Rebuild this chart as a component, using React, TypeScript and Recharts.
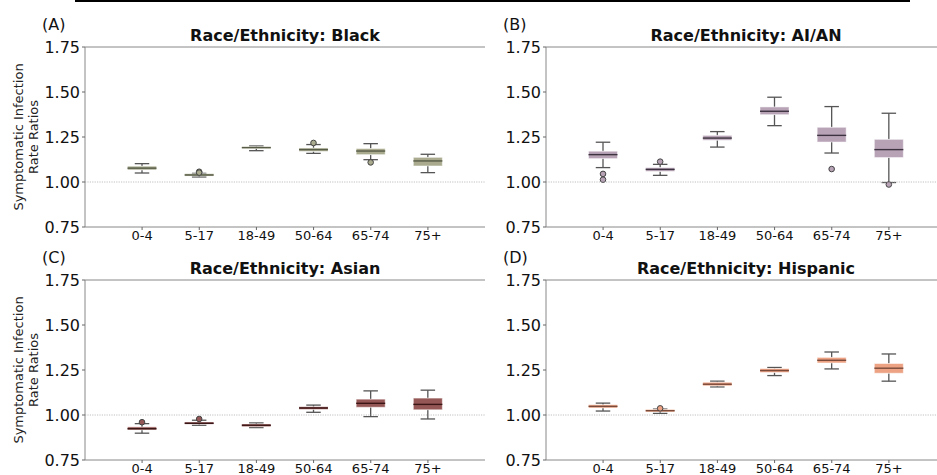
import React from "react";
import {
  ComposedChart,
  Bar,
  XAxis,
  YAxis,
  ReferenceLine,
  Label,
} from "recharts";

const ageGroups = ["0-4", "5-17", "18-49", "50-64", "65-74", "75+"];
const yTicks = [0.75, 1.0, 1.25, 1.5, 1.75];

// Black
const blackLow = [1.05, 1.028, 1.174, 1.159, 1.124, 1.052];
const blackQ1 = [1.067, 1.033, 1.186, 1.17, 1.152, 1.089];
const blackMedian = [1.077, 1.039, 1.191, 1.18, 1.172, 1.117];
const blackQ3 = [1.088, 1.046, 1.196, 1.189, 1.186, 1.137];
const blackHigh = [1.102, 1.048, 1.2, 1.208, 1.213, 1.154];
const blackOutliers = [[], [1.057, 1.052], [], [1.217], [1.109], []];

// AI/AN
const aianLow = [1.08, 1.037, 1.194, 1.313, 1.161, 0.997];
const aianQ1 = [1.13, 1.059, 1.232, 1.374, 1.222, 1.136];
const aianMedian = [1.152, 1.07, 1.244, 1.393, 1.259, 1.18];
const aianQ3 = [1.171, 1.08, 1.259, 1.417, 1.304, 1.237];
const aianHigh = [1.221, 1.098, 1.28, 1.471, 1.419, 1.382];
const aianOutliers = [[1.045, 1.013], [1.113], [], [], [1.072], [0.986]];

// Asian
const asianLow = [0.899, 0.943, 0.93, 1.015, 0.991, 0.978];
const asianQ1 = [0.917, 0.949, 0.935, 1.031, 1.043, 1.029];
const asianMedian = [0.924, 0.954, 0.943, 1.039, 1.065, 1.059];
const asianQ3 = [0.934, 0.961, 0.95, 1.046, 1.088, 1.094];
const asianHigh = [0.952, 0.971, 0.956, 1.055, 1.134, 1.138];
const asianOutliers = [[0.96], [0.978], [], [], [], []];

// Hispanic
const hispLow = [1.022, 1.009, 1.156, 1.219, 1.256, 1.188];
const hispQ1 = [1.039, 1.017, 1.162, 1.236, 1.289, 1.232];
const hispMedian = [1.048, 1.024, 1.171, 1.247, 1.304, 1.26];
const hispQ3 = [1.057, 1.031, 1.182, 1.258, 1.32, 1.286];
const hispHigh = [1.066, 1.033, 1.188, 1.264, 1.35, 1.339];
const hispOutliers = [[], [1.037], [], [], [], []];

const font = "DejaVu Sans, sans-serif";

function buildRows(lo, q1, med, q3, hi, out) {
  return ageGroups.map((age, i) => ({
    age,
    lo: lo[i],
    q1: q1[i],
    med: med[i],
    q3: q3[i],
    hi: hi[i],
    outliers: out[i],
  }));
}

// draws whiskers, box, median and fliers; pixel scale is taken from the
// bar recharts computed for the [lo, hi] range
function BoxShape(props) {
  const { x, y, width, height, payload, boxColor, medianColor } = props;
  const d = payload;
  const k = height / (d.hi - d.lo);
  const Y = (v) => y + (d.hi - v) * k;
  const cx = x + width / 2;
  const cap = width / 4;
  const wc = "#555555";
  return (
    <g>
      <line x1={cx} x2={cx} y1={Y(d.hi)} y2={Y(d.q3)} stroke={wc} strokeWidth={1.3} />
      <line x1={cx} x2={cx} y1={Y(d.q1)} y2={Y(d.lo)} stroke={wc} strokeWidth={1.3} />
      <line x1={cx - cap} x2={cx + cap} y1={Y(d.hi)} y2={Y(d.hi)} stroke={wc} strokeWidth={1.3} />
      <line x1={cx - cap} x2={cx + cap} y1={Y(d.lo)} y2={Y(d.lo)} stroke={wc} strokeWidth={1.3} />
      <rect
        x={x}
        y={Y(d.q3)}
        width={width}
        height={Math.max(Y(d.q1) - Y(d.q3), 1)}
        fill={boxColor}
        stroke="#ffffff"
        strokeOpacity={0.5}
        strokeWidth={1}
      />
      <line x1={x} x2={x + width} y1={Y(d.med)} y2={Y(d.med)} stroke={medianColor} strokeWidth={1.4} />
      {d.outliers.map((o, j) => (
        <circle key={j} cx={cx} cy={Y(o)} r={2.8} fill={boxColor} stroke="#444" strokeWidth={1} />
      ))}
    </g>
  );
}

function YLabel(props) {
  const vb = props.viewBox || {};
  const cy = vb.y + vb.height / 2;
  return (
    <g>
      <text
        x={18}
        y={cy}
        transform={`rotate(-90, 18, ${cy})`}
        textAnchor="middle"
        dominantBaseline="central"
        fontSize={13}
        fontFamily={font}
        fill="#222"
      >
        Symptomatic Infection
      </text>
      <text
        x={33}
        y={cy}
        transform={`rotate(-90, 33, ${cy})`}
        textAnchor="middle"
        dominantBaseline="central"
        fontSize={13}
        fontFamily={font}
        fill="#222"
      >
        Rate Ratios
      </text>
    </g>
  );
}

function Panel({ left, top, tag, title, rows, boxColor, medianColor, yLabel }) {
  return (
    <div style={{ position: "absolute", left, top, width: 490, height: 250 }}>
      <div
        style={{
          position: "absolute",
          left: 42,
          top: 15,
          fontSize: 16,
          lineHeight: "20px",
          fontFamily: font,
          color: "#111",
        }}
      >
        {tag}
      </div>
      <div
        style={{
          position: "absolute",
          left: 85,
          width: 400,
          top: 26,
          textAlign: "center",
          fontSize: 16,
          lineHeight: "20px",
          fontWeight: "bold",
          fontFamily: font,
          color: "#111",
        }}
      >
        {title}
      </div>
      <ComposedChart
        width={490}
        height={250}
        data={rows}
        margin={{ top: 47, right: 5, bottom: 0, left: 40 }}
        style={{ position: "absolute", left: 0, top: 0 }}
      >
        <XAxis
          dataKey="age"
          type="category"
          height={23}
          padding={{ left: 28.5, right: 28.5 }}
          tick={{ fontSize: 13, fill: "#111", fontFamily: font }}
          tickLine={{ stroke: "#666" }}
          tickSize={3}
          tickMargin={1}
          axisLine={{ stroke: "#888" }}
        />
        <YAxis
          width={45}
          domain={[0.75, 1.75]}
          ticks={yTicks}
          allowDataOverflow
          tickFormatter={(v) => v.toFixed(2)}
          tick={{ fontSize: 16, fill: "#111", fontFamily: font }}
          tickLine={{ stroke: "#666" }}
          tickSize={3}
          tickMargin={2}
          axisLine={{ stroke: "#888" }}
        >
          {yLabel ? <Label content={(p) => <YLabel {...p} />} /> : null}
        </YAxis>
        <YAxis
          yAxisId="right"
          orientation="right"
          width={0}
          domain={[0.75, 1.75]}
          tick={false}
          tickLine={false}
          axisLine={{ stroke: "#888" }}
        />
        <ReferenceLine y={1.75} stroke="#888" />
        <ReferenceLine y={1} stroke="#b0b0b0" strokeDasharray="1.2 1.2" strokeWidth={0.8} />
        <Bar
          dataKey={(d) => [d.lo, d.hi]}
          barSize={29}
          isAnimationActive={false}
          shape={(p) => <BoxShape {...p} boxColor={boxColor} medianColor={medianColor} />}
        />
      </ComposedChart>
    </div>
  );
}

export default function App() {
  return (
    <div
      style={{
        position: "absolute",
        left: 0,
        top: 0,
        width: 937,
        height: 475,
        overflow: "hidden",
        background: "#fff",
      }}
    >
      <div style={{ position: "absolute", left: 75, top: 0, width: 835, height: 2, background: "#000" }} />
      <Panel
        left={0}
        top={0}
        tag="(A)"
        title="Race/Ethnicity: Black"
        rows={buildRows(blackLow, blackQ1, blackMedian, blackQ3, blackHigh, blackOutliers)}
        boxColor="#a9aa8e"
        medianColor="#565c46"
        yLabel
      />
      <Panel
        left={461}
        top={0}
        tag="(B)"
        title="Race/Ethnicity: AI/AN"
        rows={buildRows(aianLow, aianQ1, aianMedian, aianQ3, aianHigh, aianOutliers)}
        boxColor="#b8a3b6"
        medianColor="#3d3340"
      />
      <Panel
        left={0}
        top={233}
        tag="(C)"
        title="Race/Ethnicity: Asian"
        rows={buildRows(asianLow, asianQ1, asianMedian, asianQ3, asianHigh, asianOutliers)}
        boxColor="#955755"
        medianColor="#3b1616"
        yLabel
      />
      <Panel
        left={461}
        top={233}
        tag="(D)"
        title="Race/Ethnicity: Hispanic"
        rows={buildRows(hispLow, hispQ1, hispMedian, hispQ3, hispHigh, hispOutliers)}
        boxColor="#eca283"
        medianColor="#7a4a3a"
      />
    </div>
  );
}
